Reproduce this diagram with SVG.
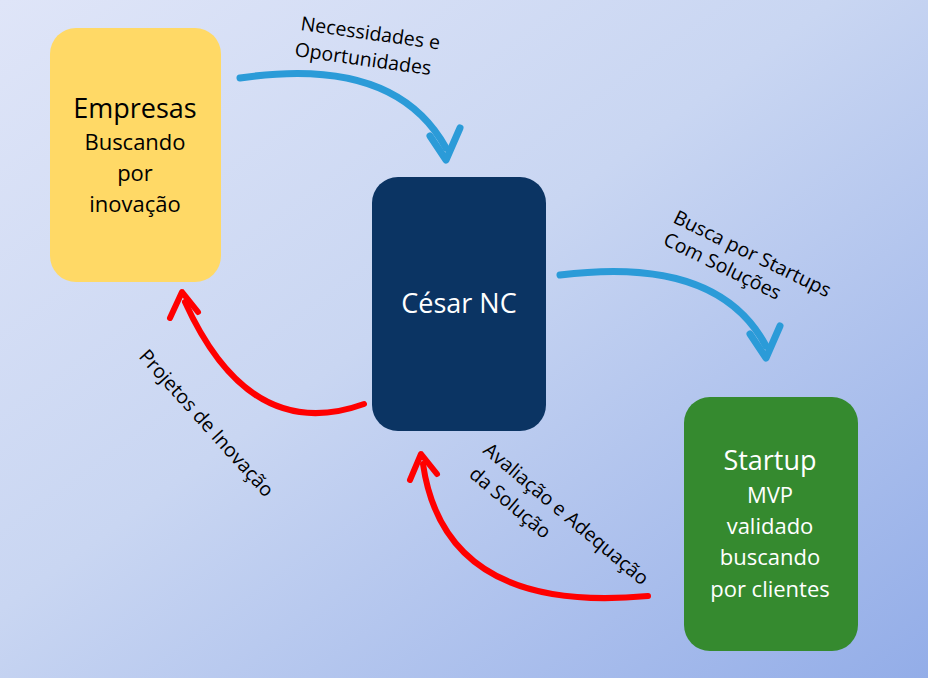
<svg xmlns="http://www.w3.org/2000/svg" width="928" height="678" viewBox="0 0 928 678">
<defs>
<linearGradient id="bg" x1="0" y1="0" x2="1" y2="1">
<stop offset="0" stop-color="#dfe5f8"/><stop offset="0.45" stop-color="#c9d6f2"/><stop offset="1" stop-color="#93ade8"/>
</linearGradient>
<style>
.t{font-family:"Open Sans","Liberation Sans",sans-serif;text-anchor:middle}
.lbl{font-family:"Open Sans","Liberation Sans",sans-serif;font-size:19.5px;fill:#000}
.blue{fill:none;stroke:#2b9bd8;stroke-width:7;stroke-linecap:round;stroke-linejoin:round}
.red{fill:none;stroke:#ff0000;stroke-width:6;stroke-linecap:round;stroke-linejoin:round}
</style>
</defs>
<rect width="928" height="678" fill="url(#bg)"/>
<g id="connectors">
<path class="blue" d="M240,78 Q395,55 446,148"/>
<path class="blue" d="M430,136 L446,160 L460,128"/>
<path class="blue" d="M560,275 Q718,255 766,346"/>
<path class="blue" d="M750,334 L766,358 L780,326"/>
<path class="red" d="M364,404 Q250,445 185,302"/>
<path class="red" d="M170,318 L182,292 L198,312"/>
<path class="red" d="M648,596 Q445,615 423,464"/>
<path class="red" d="M410,480 L421,454 L437,474"/>
<text class="lbl" transform="translate(300,30) rotate(8)">Necessidades e</text>
<text class="lbl" transform="translate(294,56) rotate(8)">Oportunidades</text>
<text class="lbl" transform="translate(672,222) rotate(26)">Busca por Startups</text>
<text class="lbl" transform="translate(662,244) rotate(26)">Com Soluções</text>
<text class="lbl" transform="translate(138,357) rotate(48)">Projetos de Inovação</text>
<text class="lbl" transform="translate(482,452) rotate(40)">Avaliação e Adequação</text>
<text class="lbl" transform="translate(468,476) rotate(40)">da Solução</text>
</g>
<g id="empresas">
<rect x="50" y="28" width="171" height="254" rx="26" fill="#ffd966"/>
<text class="t" x="135" y="118" font-size="27">Empresas</text>
<text class="t" x="135" y="150" font-size="22">Buscando</text>
<text class="t" x="135" y="181" font-size="22">por</text>
<text class="t" x="135" y="212" font-size="22">inovação</text>
</g>
<g id="cesar">
<rect x="372" y="177" width="174" height="254" rx="26" fill="#0b3463"/>
<text class="t" x="459" y="313" font-size="27" fill="#fff">César NC</text>
</g>
<g id="startup">
<rect x="684" y="397" width="174" height="254" rx="26" fill="#358a2f"/>
<text class="t" x="770" y="470" font-size="27" fill="#fff">Startup</text>
<text class="t" x="770" y="503" font-size="22" fill="#fff">MVP</text>
<text class="t" x="770" y="534" font-size="22" fill="#fff">validado</text>
<text class="t" x="770" y="565" font-size="22" fill="#fff">buscando</text>
<text class="t" x="770" y="597" font-size="22" fill="#fff">por clientes</text>
</g>
</svg>
